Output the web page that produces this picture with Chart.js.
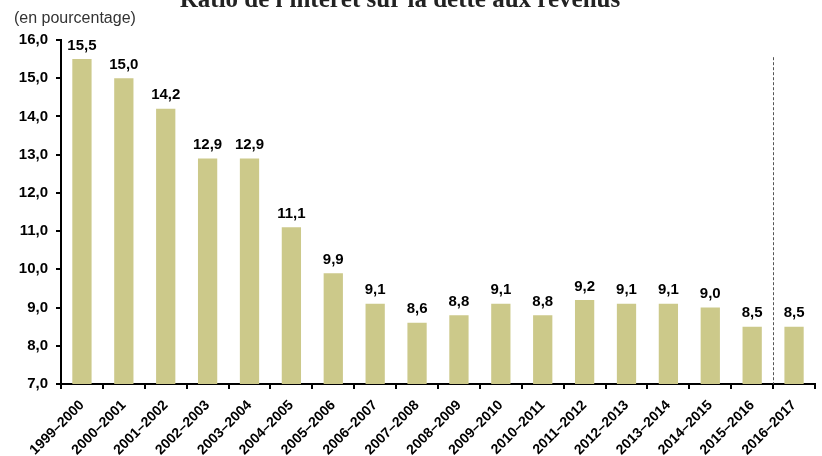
<!DOCTYPE html>
<html>
<head>
<meta charset="utf-8">
<script src="https://cdn.jsdelivr.net/npm/chart.js@4.4.1/dist/chart.umd.min.js"></script>
<style>
  html, body { margin: 0; padding: 0; background: #fff; overflow: hidden; }
  canvas { display: block; }
</style>
</head>
<body>
<canvas id="ratioChart" width="822" height="456"></canvas>
<script>
// categories and values
const years = ['1999–2000', '2000–2001', '2001–2002', '2002–2003', '2003–2004', '2004–2005',
    '2005–2006', '2006–2007', '2007–2008', '2008–2009', '2009–2010', '2010–2011',
    '2011–2012', '2012–2013', '2013–2014', '2014–2015', '2015–2016', '2016–2017'];
const ratio = [15.5, 15.0, 14.2, 12.9, 12.9, 11.1, 9.9, 9.1, 8.6, 8.8, 9.1, 8.8, 9.2, 9.1, 9.1, 9.0, 8.5, 8.5];
const yMin = 7;
const yMax = 16;
const splitAfter = 16;      // dashed line between 2015–2016 and 2016–2017
const splitTop = 15.55;     // top of the dashed line (axis value)

const titleText = "Ratio de l'intérêt sur la dette aux revenus";
const unitText = '(en pourcentage)';

function fmt(v) {
    return v.toFixed(1).replace('.', ',');
}

// title + unit label
const titlePlugin = {
    id: 'titles',
    afterDraw(chart) {
        const ctx = chart.ctx;
        ctx.save();
        ctx.fillStyle = '#222';
        ctx.font = 'bold 25px "Liberation Serif"';
        ctx.textAlign = 'center';
        ctx.textBaseline = 'alphabetic';
        ctx.fillText(titleText, 400, 7);
        ctx.fillStyle = '#333';
        ctx.font = '16px "Liberation Sans"';
        ctx.textAlign = 'left';
        ctx.fillText(unitText, 14, 23);
        ctx.restore();
    }
};

// value labels above the bars
const valueLabels = {
    id: 'valueLabels',
    afterDatasetsDraw(chart) {
        const ctx = chart.ctx;
        const meta = chart.getDatasetMeta(0);
        ctx.save();
        ctx.fillStyle = '#000';
        ctx.font = 'bold 15px "Liberation Sans"';
        ctx.textAlign = 'center';
        ctx.textBaseline = 'bottom';
        meta.data.forEach((bar, i) => {
            ctx.fillText(fmt(ratio[i]), bar.x, bar.y - 6);
        });
        ctx.restore();
    }
};

// dashed separator before the last year
const separator = {
    id: 'separator',
    afterDatasetsDraw(chart) {
        const x = chart.scales.x;
        const y = chart.scales.y;
        const px = Math.round((x.getPixelForValue(splitAfter) + x.getPixelForValue(splitAfter + 1)) / 2) + 0.5;
        const ctx = chart.ctx;
        ctx.save();
        ctx.strokeStyle = '#555';
        ctx.lineWidth = 1;
        ctx.setLineDash([3, 2]);
        ctx.beginPath();
        ctx.moveTo(px, y.getPixelForValue(splitTop));
        ctx.lineTo(px, y.getPixelForValue(yMin));
        ctx.stroke();
        ctx.restore();
    }
};

const ctx = document.getElementById('ratioChart').getContext('2d');
const chart = new Chart(ctx, {
    type: 'bar',
    data: {
        labels: years,
        datasets: [{
            data: ratio,
            backgroundColor: '#ccc98a',
            borderWidth: 0,
            categoryPercentage: 1,
            barPercentage: 0.46
        }]
    },
    options: {
        responsive: false,
        animation: false,
        devicePixelRatio: 1,
        layout: { padding: { top: 40, right: 7, left: 0, bottom: 0 } },
        plugins: {
            legend: { display: false },
            tooltip: { enabled: false },
            title: { display: false }
        },
        scales: {
            x: {
                afterFit(s) { s.height = 72; },
                grid: { display: true, drawOnChartArea: false, drawTicks: true, tickLength: 5, color: '#000', lineWidth: 2 },
                border: { display: true, color: '#000', width: 2 },
                ticks: {
                    autoSkip: false,
                    minRotation: 45,
                    maxRotation: 45,
                    padding: 8,
                    color: '#000',
                    font: { family: '"Liberation Sans"', size: 14, weight: 'bold' }
                }
            },
            y: {
                min: yMin,
                max: yMax,
                afterFit(s) { s.width = 61; },
                grid: { display: true, drawOnChartArea: false, drawTicks: true, tickLength: 5, color: '#000', lineWidth: 2 },
                border: { display: true, color: '#000', width: 2 },
                ticks: {
                    stepSize: 1,
                    padding: 8,
                    color: '#000',
                    font: { family: '"Liberation Sans"', size: 15, weight: 'bold' },
                    callback: (v) => fmt(v)
                }
            }
        }
    },
    plugins: [titlePlugin, valueLabels, separator]
});
</script>
</body>
</html>
